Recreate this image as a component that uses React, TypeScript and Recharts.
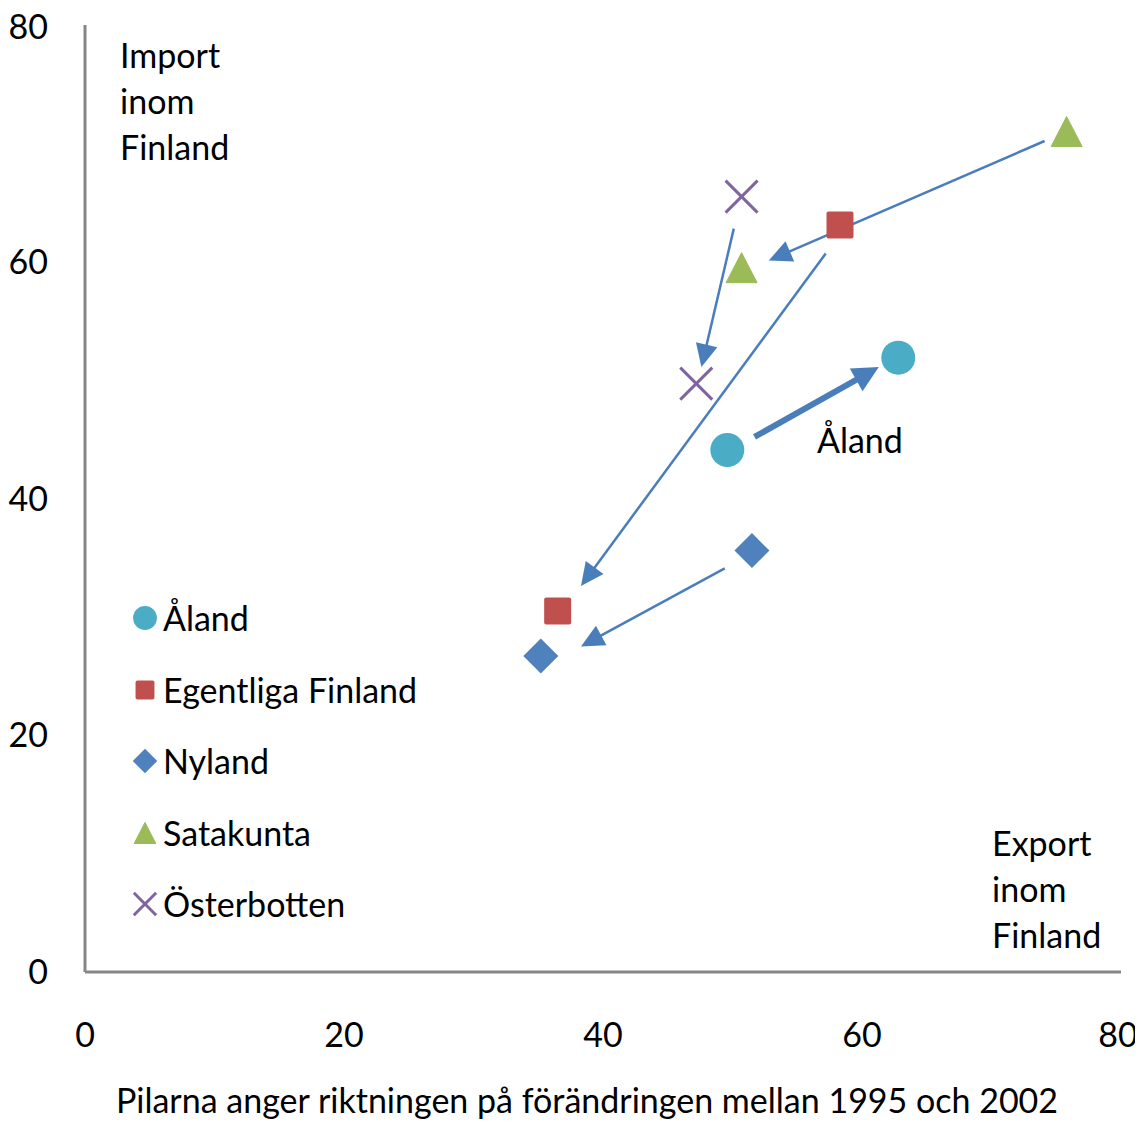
import React from 'react';
import { ScatterChart, Scatter, XAxis, YAxis, ReferenceLine } from 'recharts';

// series (1995 and 2002 positions)
const seriesNames = ['Åland', 'Egentliga Finland', 'Nyland', 'Satakunta', 'Österbotten'];
const seriesColors = ['#4BACC6', '#C0504D', '#4F81BD', '#9BBB59', '#8064A2'];
const seriesKinds = ['circle', 'square', 'diamond', 'triangle', 'cross'];

const alandPoints = [{ x: 49.6, y: 44.1 }, { x: 62.8, y: 51.9 }];
const egentligaPoints = [{ x: 36.5, y: 30.5 }, { x: 58.3, y: 63.1 }];
const nylandPoints = [{ x: 35.2, y: 26.7 }, { x: 51.5, y: 35.6 }];
const satakuntaPoints = [{ x: 75.8, y: 71.0 }, { x: 50.7, y: 59.5 }];
const osterbottenPoints = [{ x: 50.7, y: 65.5 }, { x: 47.2, y: 49.7 }];
const seriesPoints = [alandPoints, egentligaPoints, nylandPoints, satakuntaPoints, osterbottenPoints];

// arrows: direction of change 1995 -> 2002
const arrowStart = [[51.7, 45.2], [57.2, 60.7], [49.4, 34.1], [74.1, 70.2], [50.1, 62.8]];
const arrowEnd = [[61.3, 51.1], [38.3, 32.6], [38.3, 27.5], [52.8, 60.1], [47.6, 51.1]];

const axisTicks = [0, 20, 40, 60, 80];

const FONT = 'Lato, "Open Sans", sans-serif';
const FONT_SIZE = 34;
const ARROW_COLOR = '#4A7EBB';
const AXIS_COLOR = '#868686';

const Marker = ({ kind, cx, cy, color, scale = 1 }: any) => {
  if (kind === 'circle') return <circle cx={cx} cy={cy} r={17 * scale} fill={color} />;
  if (kind === 'square') {
    const s = 13.5 * scale;
    return <rect x={cx - s} y={cy - s} width={2 * s} height={2 * s} rx={2} fill={color} />;
  }
  if (kind === 'diamond') {
    const s = 17.5 * scale;
    return <polygon points={`${cx},${cy - s} ${cx + s},${cy} ${cx},${cy + s} ${cx - s},${cy}`} fill={color} />;
  }
  if (kind === 'triangle') {
    const w = 15.5 * scale;
    const h = 15 * scale;
    return <polygon points={`${cx},${cy - h} ${cx + w},${cy + h} ${cx - w},${cy + h}`} fill={color} strokeLinejoin="round" stroke={color} strokeWidth={1} />;
  }
  const s = 16 * scale;
  return (
    <g stroke={color} strokeWidth={3}>
      <line x1={cx - s} y1={cy - s} x2={cx + s} y2={cy + s} />
      <line x1={cx - s} y1={cy + s} x2={cx + s} y2={cy - s} />
    </g>
  );
};

const makeArrow = (w: number, head: number, half: number) => (p: any) => {
  const x1 = Number(p.x1), y1 = Number(p.y1), x2 = Number(p.x2), y2 = Number(p.y2);
  const dx = x2 - x1;
  const dy = y2 - y1;
  const len = Math.hypot(dx, dy) || 1;
  const ux = dx / len;
  const uy = dy / len;
  const bx = x2 - ux * head;
  const by = y2 - uy * head;
  const px = -uy;
  const py = ux;
  return (
    <g>
      <line x1={x1} y1={y1} x2={bx + ux * 2} y2={by + uy * 2} stroke={ARROW_COLOR} strokeWidth={w} />
      <polygon
        points={`${x2},${y2} ${bx + px * half},${by + py * half} ${bx - px * half},${by - py * half}`}
        fill={ARROW_COLOR}
      />
    </g>
  );
};

const textStyle: React.CSSProperties = {
  position: 'absolute',
  fontFamily: FONT,
  fontSize: FONT_SIZE,
  lineHeight: '46px',
  color: '#000',
  whiteSpace: 'nowrap',
};

export default function App() {
  return (
    <div style={{ position: 'relative', width: 1127, height: 1111 }}>
      <style>{'html,body{overflow:hidden} svg{overflow:visible}'}</style>
      <ScatterChart width={1127} height={1111} margin={{ top: 17, right: 14, left: 0, bottom: 0 }}>
        <XAxis
          type="number"
          dataKey="x"
          domain={[0, 80]}
          ticks={axisTicks}
          height={147}
          tickLine={false}
          tickSize={0}
          tickMargin={51}
          axisLine={{ stroke: AXIS_COLOR, strokeWidth: 3 }}
          tick={{ fill: '#000', fontSize: FONT_SIZE, fontFamily: FONT }}
          label={{
            value: 'Pilarna anger riktningen på förändringen mellan 1995 och 2002',
            position: 'insideBottom',
            offset: 6,
            dx: -16,
            fill: '#000',
            fontSize: FONT_SIZE,
            fontFamily: FONT,
          }}
        />
        <YAxis
          type="number"
          dataKey="y"
          domain={[0, 80]}
          ticks={axisTicks}
          width={77}
          tickLine={false}
          tickSize={0}
          tickMargin={37}
          axisLine={{ stroke: AXIS_COLOR, strokeWidth: 3 }}
          tick={{ fill: '#000', fontSize: FONT_SIZE, fontFamily: FONT }}
        />
        {seriesPoints.map((pts, i) => (
          <Scatter
            key={seriesNames[i]}
            name={seriesNames[i]}
            data={pts}
            isAnimationActive={false}
            shape={(p: any) => <Marker kind={seriesKinds[i]} cx={p.cx} cy={p.cy} color={seriesColors[i]} />}
          />
        ))}
        {arrowStart.map((s, i) => (
          <ReferenceLine
            key={'arrow' + i}
            segment={[{ x: s[0], y: s[1] }, { x: arrowEnd[i][0], y: arrowEnd[i][1] }]}
            ifOverflow="visible"
            shape={i === 0 ? makeArrow(6, 26, 13) : makeArrow(2.5, 23, 11)}
          />
        ))}
      </ScatterChart>

      <div style={{ ...textStyle, left: 112, top: 24 }}>
        Import<br />inom<br />Finland
      </div>
      <div style={{ ...textStyle, left: 984, top: 812 }}>
        Export<br />inom<br />Finland
      </div>
      <div style={{ ...textStyle, left: 809, top: 409 }}>Åland</div>

      {seriesNames.map((name, i) => (
        <div key={name} style={{ position: 'absolute', left: 122, top: 587 + i * 71.5, height: 46, display: 'flex', alignItems: 'center' }}>
          <svg width={30} height={46} style={{ display: 'block' }}>
            <Marker kind={seriesKinds[i]} cx={15} cy={23} color={seriesColors[i]} scale={0.7} />
          </svg>
          <span style={{ fontFamily: FONT, fontSize: FONT_SIZE, lineHeight: '46px', marginLeft: 3 }}>{name}</span>
        </div>
      ))}
    </div>
  );
}
